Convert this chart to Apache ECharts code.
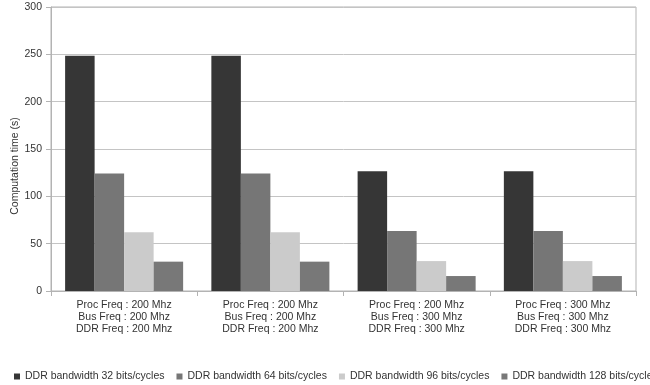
<!DOCTYPE html>
<html>
<head>
<meta charset="utf-8">
<script src="https://cdn.jsdelivr.net/npm/echarts@6/dist/echarts.min.js"></script>
<style>html,body{margin:0;padding:0;background:#fff}#c{width:650px;height:385px}</style>
</head>
<body>
<div id="c"></div>
<script>
const categories = [
  "Proc Freq : 200 Mhz\nBus Freq : 200 Mhz\nDDR Freq : 200 Mhz",
  "Proc Freq : 200 Mhz\nBus Freq : 200 Mhz\nDDR Freq : 200 Mhz",
  "Proc Freq : 200 Mhz\nBus Freq : 300 Mhz\nDDR Freq : 300 Mhz",
  "Proc Freq : 300 Mhz\nBus Freq : 300 Mhz\nDDR Freq : 300 Mhz"
];
const seriesNames = [
  "DDR bandwidth 32 bits/cycles",
  "DDR bandwidth 64 bits/cycles",
  "DDR bandwidth 96 bits/cycles",
  "DDR bandwidth 128 bits/cycles"
];
const bw32 = [248.4, 248.4, 126.6, 126.6];
const bw64 = [124.2, 124.2, 63.3, 63.3];
const bw96 = [62.1, 62.1, 31.6, 31.6];
const bw128 = [31.0, 31.0, 15.8, 15.8];
const yTicks = { min: 0, max: 300, interval: 50 };
const yName = "Computation time (s)";

const colors = ["#363636", "#767676", "#cbcbcb", "#787878"];
const values = [bw32, bw64, bw96, bw128];
const font = "'Liberation Sans', Arial, sans-serif";
const chart = echarts.init(document.getElementById('c'), null, { renderer: 'canvas' });
chart.setOption({
  backgroundColor: '#ffffff',
  animation: false,
  color: colors,
  textStyle: { fontFamily: font },
  grid: { left: 51, right: 14, top: 7, bottom: 94, containLabel: false, outerBoundsMode: 'none', show: true, borderColor: '#b3b3b3', borderWidth: 1, backgroundColor: 'transparent' },
  legend: {
    left: 9, top: 366, width: 900, padding: 5,
    itemWidth: 6, itemHeight: 6, itemGap: 12,
    icon: 'rect',
    textStyle: { fontSize: 10.5, color: '#333', fontFamily: font },
    data: seriesNames
  },
  xAxis: {
    type: 'category',
    data: categories,
    axisLine: { lineStyle: { color: '#b3b3b3' } },
    axisTick: { show: true, length: 5, lineStyle: { color: '#b3b3b3' } },
    axisLabel: { interval: 0, fontSize: 10.5, lineHeight: 12, color: '#333', margin: 8, fontFamily: font }
  },
  yAxis: {
    type: 'value',
    min: yTicks.min, max: yTicks.max, interval: yTicks.interval,
    name: yName,
    nameLocation: 'middle',
    nameGap: 30,
    nameMoveOverlap: false,
    nameTextStyle: { fontSize: 10.5, color: '#333', fontFamily: font, padding: [0, 34, 0, 0] },
    axisLine: { show: true, lineStyle: { color: '#b3b3b3' } },
    axisTick: { show: true, length: 5, lineStyle: { color: '#b3b3b3' } },
    axisLabel: { fontSize: 10.5, color: '#333', margin: 9, fontFamily: font },
    splitLine: { lineStyle: { color: '#c4c4c4' } }
  },
  series: seriesNames.map((n, i) => ({
    name: n,
    type: 'bar',
    data: values[i],
    barGap: '0%',
    barCategoryGap: '19.3%',
    itemStyle: { color: colors[i] }
  }))
});
</script>
</body>
</html>
